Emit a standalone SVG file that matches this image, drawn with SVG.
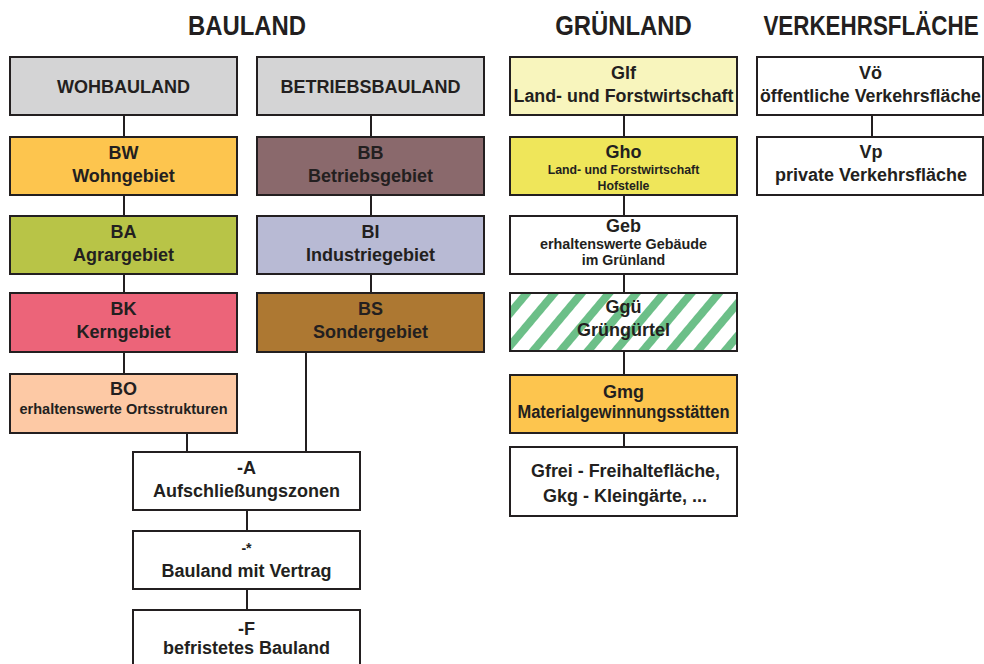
<svg xmlns="http://www.w3.org/2000/svg" width="984" height="664" viewBox="0 0 984 664">
  <defs>
    <style>
      text { font-family: "Liberation Sans", Arial, sans-serif; font-weight: bold; fill: #231f20; text-anchor: middle; }
      .hd { font-family: "Liberation Sans", Arial, sans-serif; }
      .t { font-size: 18px; }
      .s { font-size: 14.2px; }
      .xs { font-size: 12.3px; }
      .box { stroke: #231f20; stroke-width: 2; }
      .grey { fill: #d4d4d5; }
      .white { fill: #ffffff; }
      #connectors line { stroke: #231f20; stroke-width: 2; }
    </style>
    <!-- diagonal green stripes for the Grüngürtel area -->
    <pattern id="hatch" width="21" height="21" patternUnits="userSpaceOnUse" patternTransform="rotate(40)">
      <rect width="21" height="21" fill="#ffffff"/>
      <rect width="8" height="21" fill="#6cbf88"/>
    </pattern>
  </defs>

  <rect width="984" height="664" fill="#ffffff"/>

  <!-- column headings: narrow set, stretched vertically to a tall condensed look -->
  <g id="headings">
    <text class="hd" transform="translate(247 35) scale(1 1.17)" font-size="23.9">BAULAND</text>
    <text class="hd" transform="translate(623.5 35) scale(1 1.17)" font-size="23.9">GRÜNLAND</text>
    <text class="hd" transform="translate(871 35) scale(1 1.25)" font-size="22.4">VERKEHRSFLÄCHE</text>
  </g>

  <!-- connectors -->
  <g id="connectors">
    <line x1="124" y1="115" x2="124" y2="137"/>
    <line x1="124" y1="195" x2="124" y2="216"/>
    <line x1="124" y1="274" x2="124" y2="293"/>
    <line x1="124" y1="352" x2="124" y2="374"/>
    <line x1="371" y1="115" x2="371" y2="137"/>
    <line x1="371" y1="195" x2="371" y2="216"/>
    <line x1="371" y1="274" x2="371" y2="293"/>
    <line x1="187" y1="433" x2="187" y2="452"/>
    <line x1="306" y1="352" x2="306" y2="452"/>
    <line x1="247" y1="510" x2="247" y2="531"/>
    <line x1="247" y1="589" x2="247" y2="610"/>
    <line x1="624" y1="115" x2="624" y2="137"/>
    <line x1="624" y1="195" x2="624" y2="216"/>
    <line x1="624" y1="274" x2="624" y2="293"/>
    <line x1="624" y1="351" x2="624" y2="375"/>
    <line x1="624" y1="433" x2="624" y2="447"/>
    <line x1="872" y1="115" x2="872" y2="137"/>
  </g>

  <!-- Bauland: Wohnbauland column -->
  <g id="wohnbauland">
    <rect class="box grey" x="10" y="57" width="227" height="58"/>
    <text class="t" x="123.5" y="93">WOHBAULAND</text>
  </g>
  <g id="bw">
    <rect class="box" x="10" y="137" width="227" height="58" fill="#fdc54e"/>
    <text class="t" x="123.5" y="159">BW</text>
    <text class="t" x="123.5" y="182">Wohngebiet</text>
  </g>
  <g id="ba">
    <rect class="box" x="10" y="216" width="227" height="58" fill="#b8c447"/>
    <text class="t" x="123.5" y="238">BA</text>
    <text class="t" x="123.5" y="261">Agrargebiet</text>
  </g>
  <g id="bk">
    <rect class="box" x="10" y="293" width="227" height="59" fill="#ec6479"/>
    <text class="t" x="123.5" y="315">BK</text>
    <text class="t" x="123.5" y="338">Kerngebiet</text>
  </g>
  <g id="bo">
    <rect class="box" x="10" y="374" width="227" height="59" fill="#fdc9a5"/>
    <text class="t" x="123.5" y="395">BO</text>
    <text class="s" x="123.5" y="414" textLength="208" lengthAdjust="spacingAndGlyphs">erhaltenswerte Ortsstrukturen</text>
  </g>

  <!-- Bauland: Betriebsbauland column -->
  <g id="betriebsbauland">
    <rect class="box grey" x="257" y="57" width="227" height="58"/>
    <text class="t" x="370.5" y="93">BETRIEBSBAULAND</text>
  </g>
  <g id="bb">
    <rect class="box" x="257" y="137" width="227" height="58" fill="#8a696c"/>
    <text class="t" x="370.5" y="159">BB</text>
    <text class="t" x="370.5" y="182">Betriebsgebiet</text>
  </g>
  <g id="bi">
    <rect class="box" x="257" y="216" width="227" height="58" fill="#b8bad4"/>
    <text class="t" x="370.5" y="238">BI</text>
    <text class="t" x="370.5" y="261">Industriegebiet</text>
  </g>
  <g id="bs">
    <rect class="box" x="257" y="293" width="227" height="59" fill="#ad7832"/>
    <text class="t" x="370.5" y="315">BS</text>
    <text class="t" x="370.5" y="338">Sondergebiet</text>
  </g>

  <!-- Bauland: suffixes -->
  <g id="suffix-a">
    <rect class="box white" x="133" y="452" width="227" height="58"/>
    <text class="t" x="246.5" y="474">-A</text>
    <text class="t" x="246.5" y="497">Aufschließungszonen</text>
  </g>
  <g id="suffix-star">
    <rect class="box white" x="133" y="531" width="227" height="58"/>
    <text class="s" x="246.5" y="553">-*</text>
    <text class="t" x="246.5" y="577">Bauland mit Vertrag</text>
  </g>
  <g id="suffix-f">
    <rect class="box white" x="133" y="610" width="227" height="62"/>
    <text class="t" x="246.5" y="635">-F</text>
    <text class="t" x="246.5" y="654">befristetes Bauland</text>
  </g>

  <!-- Grünland column -->
  <g id="glf">
    <rect class="box" x="510" y="57" width="227" height="58" fill="#f8f5bd"/>
    <text class="t" x="623.5" y="79">Glf</text>
    <text class="t" x="623.5" y="102" textLength="220" lengthAdjust="spacingAndGlyphs">Land- und Forstwirtschaft</text>
  </g>
  <g id="gho">
    <rect class="box" x="510" y="137" width="227" height="58" fill="#efe65a"/>
    <text class="t" x="623.5" y="158">Gho</text>
    <text class="xs" x="623.5" y="174">Land- und Forstwirtschaft</text>
    <text class="xs" x="623.5" y="190">Hofstelle</text>
  </g>
  <g id="geb">
    <rect class="box white" x="510" y="216" width="227" height="58"/>
    <text class="t" x="623.5" y="232">Geb</text>
    <text class="s" x="623.5" y="249" textLength="167" lengthAdjust="spacingAndGlyphs">erhaltenswerte Gebäude</text>
    <text class="s" x="623.5" y="265">im Grünland</text>
  </g>
  <g id="ggue">
    <rect class="box" x="510" y="293" width="227" height="58" fill="url(#hatch)"/>
    <text class="t" x="623.5" y="313">Ggü</text>
    <text class="t" x="623.5" y="336">Grüngürtel</text>
  </g>
  <g id="gmg">
    <rect class="box" x="510" y="375" width="227" height="58" fill="#fdc54e"/>
    <text class="t" x="623.5" y="398">Gmg</text>
    <text class="t" x="623.5" y="418" textLength="212" lengthAdjust="spacingAndGlyphs">Materialgewinnungsstätten</text>
  </g>
  <g id="gfrei">
    <rect class="box white" x="510" y="447" width="227" height="69"/>
    <text class="t" x="625.5" y="477" textLength="189" lengthAdjust="spacingAndGlyphs">Gfrei - Freihaltefläche,</text>
    <text class="t" x="625" y="502">Gkg - Kleingärte, ...</text>
  </g>

  <!-- Verkehrsfläche column -->
  <g id="voe">
    <rect class="box white" x="757" y="57" width="226" height="58"/>
    <text class="t" x="870.5" y="79">Vö</text>
    <text class="t" x="870.5" y="102" textLength="221" lengthAdjust="spacingAndGlyphs">öffentliche Verkehrsfläche</text>
  </g>
  <g id="vp">
    <rect class="box white" x="757" y="137" width="226" height="58"/>
    <text class="t" x="871" y="158">Vp</text>
    <text class="t" x="871" y="181">private Verkehrsfläche</text>
  </g>
</svg>
